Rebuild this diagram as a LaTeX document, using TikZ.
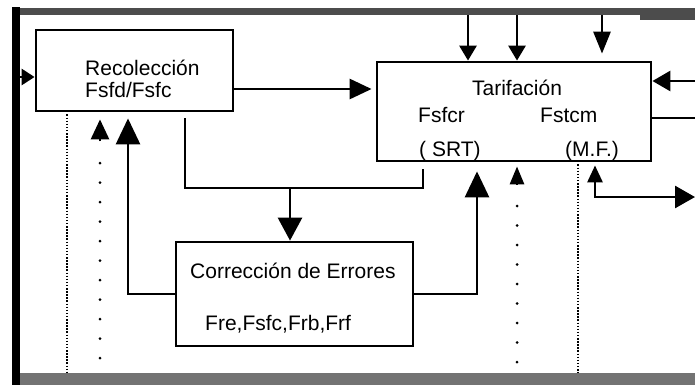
\documentclass[tikz,border=0pt]{standalone}
\usepackage{fontspec}
\setmainfont{Liberation Sans}
\usetikzlibrary{arrows.meta}
\tikzset{
  lw/.style={line width=2.8pt},
  box/.style={draw, line width=2.8pt, inner sep=0pt},
  lbl/.style={font=\fontsize{21}{25}\selectfont, inner sep=0pt},
  bigdots/.style={line width=3pt, line cap=round, dash pattern=on 0pt off 19.5pt},
  finedots/.style={line width=1.6pt, dash pattern=on 1.5pt off 1.6pt},
  hA/.tip={Triangle[length=13pt,width=16pt]},
  hB/.tip={Triangle[length=22pt,width=20pt]},
  hC/.tip={Triangle[length=15pt,width=17pt]},
  hD/.tip={Triangle[length=22pt,width=17pt]},
  hE/.tip={Triangle[length=18pt,width=20pt]},
  hF/.tip={Triangle[length=23pt,width=24pt]},
  hG/.tip={Triangle[length=26pt,width=24pt]},
  hH/.tip={Triangle[length=20pt,width=18pt]},
  hI/.tip={Triangle[length=18pt,width=14pt]},
  hJ/.tip={Triangle[length=17pt,width=15pt]},
  hK/.tip={Triangle[length=20pt,width=22pt]},
}
\begin{document}
\begin{tikzpicture}[x=1pt,y=-1pt]
\useasboundingbox (0,0) rectangle (695,389);
\fill[white] (0,0) rectangle (695,389);

% boxes
\node[box, minimum width=197pt, minimum height=81pt] (recol) at (134.5,70.5) {};
\node[box, minimum width=274pt, minimum height=99pt] (tarif) at (514,111.5) {};
\node[box, minimum width=237pt, minimum height=104pt] (corr) at (294.5,294) {};

% texts
\node[lbl, anchor=base west] (r1) at (85,75) {Recolección};
\node[lbl, anchor=base west] (r2) at (85,97) {Fsfd/Fsfc};
\node[lbl, anchor=base] (t1) at (517,95) {Tarifación};
\node[lbl, anchor=base west] (t2) at (418,122) {Fsfcr};
\node[lbl, anchor=base west] (t3) at (540,122) {Fstcm};
\node[lbl, anchor=base west] (t4) at (419,156) {( SRT)};
\node[lbl, anchor=base west] (t5) at (565,156) {(M.F.)};
\node[lbl, anchor=base west] (c1) at (190,278) {Corrección de Errores};
\node[lbl, anchor=base west] (c2) at (205,330) {Fre,Fsfc,Frb,Frf};

% frame coordinates
\coordinate (fl) at (16,77);
\coordinate (ft1) at (468,11);
\coordinate (ft2) at (517,11);
\coordinate (ft3) at (602,11);
\coordinate (fr1) at (695,81);
\coordinate (fr2) at (695,118);
\coordinate (fr3) at (695,197);
\coordinate (a1) at (0,89);
\coordinate (jl) at (185,188);
\coordinate (jr) at (423,188);
\coordinate (jm) at (290,188);
\coordinate (cl) at (128,0);
\coordinate (cr) at (477,0);
\coordinate (d1) at (100,358);
\coordinate (d2) at (517,362);
\coordinate (fd1) at (67,373);
\coordinate (fd2) at (578,373);
\coordinate (mf) at (595,197);

% connectors
\draw[lw, -hA] (fl) -- (recol.west |- fl);
\draw[lw, -hB, shorten >=4pt] (recol.east |- a1) -- (tarif.west |- a1);
\draw[lw, -hC] (ft1) -- (tarif.north -| ft1);
\draw[lw, -hC] (ft2) -- (tarif.north -| ft2);
\draw[lw, -hD, shorten >=7pt] (ft3) -- (tarif.north -| ft3);
\draw[lw, -hE] (fr1) -- (tarif.east |- fr1);
\draw[lw] (tarif.east |- fr2) -- (fr2);
\draw[lw, shorten <=6pt, shorten >=7pt] (recol.south -| jl) -- (jl) -- (jr) -- (tarif.south -| jr);
\draw[lw, -hF] (jm) -- (corr.north -| jm);
\draw[lw, -hG, shorten >=6pt] (corr.west) -- (corr.west -| cl) -- (recol.south -| cl);
\draw[lw, -hG, shorten >=9pt] (corr.east) -- (corr.east -| cr) -- (tarif.south -| cr);
\draw[lw, hJ-hK, shorten <=3pt] (tarif.south -| mf) -- (mf) -- (fr3);

% dotted
\draw[bigdots] (d1) -- ([yshift=-34pt]recol.south -| d1);
\draw[lw, -hH, shorten >=7pt] ([yshift=-29pt]recol.south -| d1) -- (recol.south -| d1);
\draw[bigdots] (d2) -- ([yshift=-29pt]tarif.south -| d2);
\draw[lw, -hI, shorten >=4pt] ([yshift=-22pt]tarif.south -| d2) -- (tarif.south -| d2);
\draw[finedots, shorten <=2pt] (recol.south -| fd1) -- (fd1);
\draw[finedots, shorten <=2pt] (tarif.south -| fd2) -- (fd2);

% outer frame
\draw[line width=7pt, black!70] (12,11) -- (695,11);
\fill[black!70] (640,11) rectangle (695,20);
\draw[line width=12pt, black!55] (12,379) -- (695,379);
\draw[line width=8pt] (16,7) -- (16,385);
\end{tikzpicture}
\end{document}
